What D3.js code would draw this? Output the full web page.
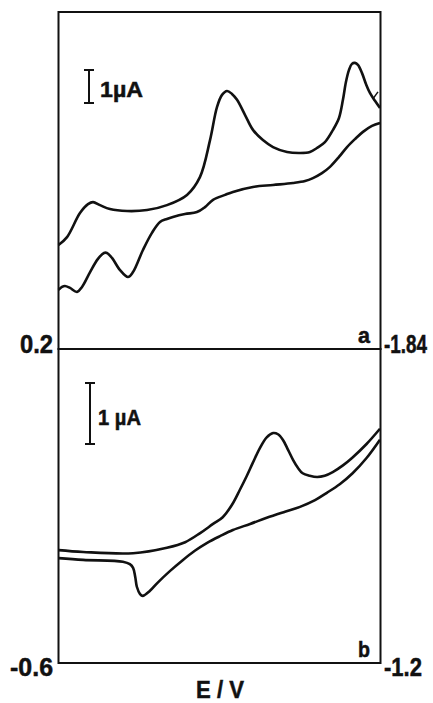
<!DOCTYPE html>
<html>

<head>
  <meta charset="utf-8">
  <style>
    body { margin: 0; background: #fff; }
    text { font-family: "Liberation Sans", Arial, sans-serif; font-weight: bold; fill: #111; stroke: #111; stroke-width: 0.5; }
  </style>
</head>

<body>
  <script src="https://d3js.org/d3.v7.min.js"></script>
  <script>
    // panel a: potential (V) and current (uA)
    var aUpperE = [0.200, 0.146, 0.064, 0.013, -0.019, -0.063, -0.126, -0.234, -0.361, -0.487, -0.614, -0.696, -0.760, -0.804, -0.836, -0.868, -0.899, -0.931, -0.982, -1.032, -1.095, -1.159, -1.248, -1.330, -1.393, -1.437, -1.488, -1.539, -1.577, -1.602, -1.621, -1.640, -1.659, -1.678, -1.697, -1.723, -1.748, -1.773, -1.805, -1.837];
    var aUpperI = [3.15, 3.39, 4.12, 4.39, 4.45, 4.36, 4.24, 4.18, 4.21, 4.36, 4.67, 5.21, 6.33, 7.33, 7.70, 7.82, 7.73, 7.55, 7.09, 6.64, 6.33, 6.12, 5.97, 5.94, 5.97, 6.09, 6.27, 6.64, 7.00, 7.55, 8.09, 8.45, 8.64, 8.67, 8.61, 8.36, 8.03, 7.76, 7.52, 7.30];
    var aLowerE = [0.200, 0.178, 0.159, 0.127, 0.083, 0.051, 0.000, -0.050, -0.088, -0.107, -0.139, -0.190, -0.240, -0.272, -0.335, -0.392, -0.443, -0.487, -0.525, -0.601, -0.677, -0.728, -0.779, -0.855, -0.905, -1.032, -1.159, -1.286, -1.362, -1.412, -1.469, -1.520, -1.577, -1.628, -1.678, -1.729, -1.786, -1.837];
    var aLowerI = [1.79, 1.88, 1.91, 1.85, 1.73, 1.88, 2.33, 2.73, 2.91, 2.91, 2.76, 2.39, 2.18, 2.33, 3.00, 3.52, 3.85, 3.94, 4.00, 4.09, 4.15, 4.30, 4.52, 4.67, 4.76, 4.91, 4.97, 5.03, 5.09, 5.18, 5.33, 5.52, 5.82, 6.12, 6.36, 6.58, 6.76, 6.85];
    // short stroke where the return scan starts, top right of panel a
    var aTurnE = [-1.792, -1.824];
    var aTurnI = [7.58, 7.79];

    // panel b
    var bUpperE = [-0.600, -0.646, -0.739, -0.802, -0.836, -0.864, -0.888, -0.906, -0.923, -0.938, -0.951, -0.962, -0.975, -0.988, -1.000, -1.009, -1.018, -1.028, -1.037, -1.046, -1.055, -1.068, -1.082, -1.096, -1.111, -1.130, -1.148, -1.174, -1.199];
    var bUpperI = [1.85, 1.82, 1.80, 1.89, 1.98, 2.13, 2.28, 2.39, 2.59, 2.84, 3.07, 3.28, 3.52, 3.70, 3.77, 3.75, 3.66, 3.49, 3.33, 3.20, 3.11, 3.07, 3.05, 3.07, 3.13, 3.24, 3.37, 3.59, 3.84];
    var bLowerE = [-0.600, -0.646, -0.720, -0.733, -0.739, -0.743, -0.746, -0.752, -0.757, -0.770, -0.784, -0.808, -0.832, -0.854, -0.877, -0.901, -0.925, -0.957, -0.988, -1.022, -1.050, -1.078, -1.100, -1.124, -1.148, -1.174, -1.199];
    var bLowerI = [1.72, 1.69, 1.66, 1.62, 1.56, 1.41, 1.25, 1.13, 1.10, 1.18, 1.31, 1.51, 1.69, 1.84, 1.97, 2.08, 2.18, 2.28, 2.38, 2.48, 2.56, 2.67, 2.79, 2.93, 3.11, 3.36, 3.66];

    var aLimits = [0.2, -1.84];
    var bLimits = [-0.6, -1.2];

    var width = 433, height = 703;
    var left = 58.5, right = 380.5;

    var svg = d3.select("body").append("svg")
      .attr("width", width)
      .attr("height", height);

    function zip(e, i) {
      return e.map(function(d, k) { return [d, i[k]]; });
    }

    // condensed bold lettering: squeeze horizontally to the width seen in the figure
    function label(g, x, y, size, len, anchor, str) {
      var t = g.append("text")
        .attr("font-size", size)
        .attr("text-anchor", anchor)
        .text(str);
      var s = len / t.node().getComputedTextLength();
      t.attr("transform", "translate(" + x + "," + y + ") scale(" + s + ",1)");
      return t;
    }

    function panel(opts) {
      var x = d3.scaleLinear().domain(opts.limits).range([left, right]);
      var y = d3.scaleLinear().domain([0, opts.iMax]).range([opts.bottom, opts.top]);

      var line = d3.line()
        .x(function(d) { return x(d[0]); })
        .y(function(d) { return y(d[1]); })
        .curve(d3.curveCatmullRom.alpha(0.5));

      var g = svg.append("g");

      g.append("rect")
        .attr("x", left)
        .attr("y", opts.top)
        .attr("width", right - left)
        .attr("height", opts.bottom - opts.top)
        .attr("fill", "none")
        .attr("stroke", "#111")
        .attr("stroke-width", 2);

      opts.curves.forEach(function(c) {
        g.append("path")
          .datum(c)
          .attr("d", line)
          .attr("fill", "none")
          .attr("stroke", "#111")
          .attr("stroke-width", c.length > 2 ? 2.6 : 1.5)
          .attr("stroke-linejoin", "round");
      });

      // 1 uA scale bar
      var bx = opts.barX, by = opts.barTop, bh = y(0) - y(1);
      var bar = g.append("g").attr("stroke", "#111").attr("stroke-width", 2);
      bar.append("line").attr("x1", bx).attr("x2", bx).attr("y1", by).attr("y2", by + bh);
      bar.append("line").attr("x1", bx - 5).attr("x2", bx + 5).attr("y1", by).attr("y2", by);
      bar.append("line").attr("x1", bx - 5).attr("x2", bx + 5).attr("y1", by + bh).attr("y2", by + bh);
      label(g, opts.barLabelX, opts.barLabelY, 22, 43, "start", opts.barLabel);

      label(g, 53, opts.bottom + opts.dy, 26, opts.leftLen, "end", opts.leftLabel);
      label(g, 384, opts.bottom + opts.dy, 26, opts.rightLen, "start", opts.rightLabel);
      label(g, 370, opts.bottom - 6, 22, 12, "end", opts.tag);
    }

    panel({
      limits: aLimits,
      top: 12, bottom: 349, iMax: 337 / 33,
      curves: [zip(aUpperE, aUpperI), zip(aLowerE, aLowerI), zip(aTurnE, aTurnI)],
      barX: 89, barTop: 70, barLabel: "1µA", barLabelX: 100, barLabelY: 97,
      leftLabel: "0.2", leftLen: 33, rightLabel: "-1.84", rightLen: 43, dy: 4,
      tag: "a"
    });

    panel({
      limits: bLimits,
      top: 349, bottom: 663, iMax: 314 / 61,
      curves: [zip(bUpperE, bUpperI), zip(bLowerE, bLowerI)],
      barX: 90, barTop: 383, barLabel: "1 µA", barLabelX: 98, barLabelY: 425,
      leftLabel: "-0.6", leftLen: 43, rightLabel: "-1.2", rightLen: 38, dy: 13,
      tag: "b"
    });

    label(svg, 220, 698, 24, 48, "middle", "E / V");
  </script>
</body>

</html>
